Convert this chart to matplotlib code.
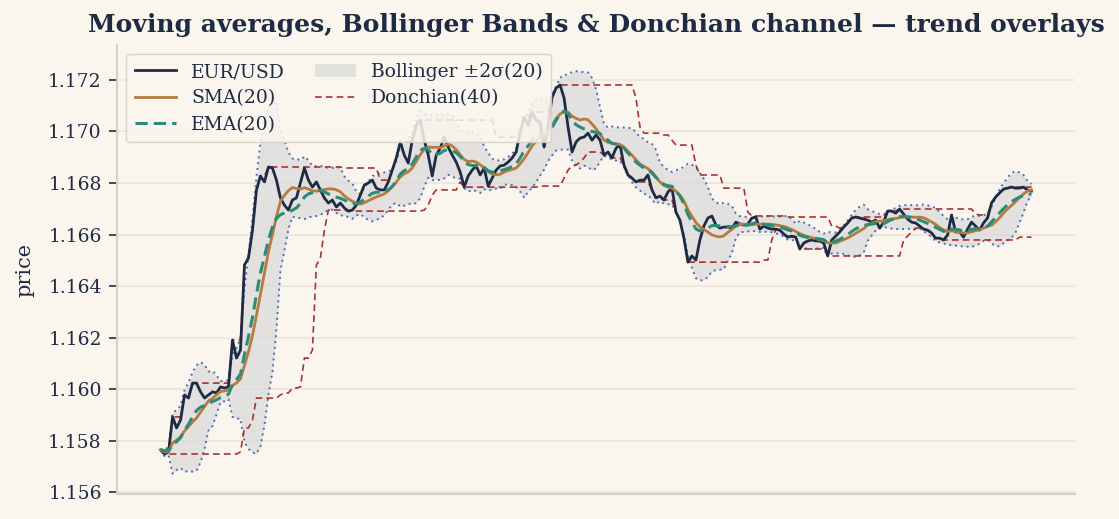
import matplotlib
matplotlib.use("Agg")
import matplotlib.pyplot as plt
import numpy as np
import pandas as pd

# EUR/USD closes, one sample every ~2 bars
eur_usd = [
    1.15765, 1.15749, 1.15757, 1.15893, 1.15850, 1.15881, 1.15978, 1.15966, 1.16024, 1.16024,
    1.15990, 1.15966, 1.15978, 1.15990, 1.15986, 1.16009, 1.16005, 1.16009, 1.16191, 1.16121,
    1.16152, 1.16482, 1.16509, 1.16617, 1.16773, 1.16827, 1.16804, 1.16862, 1.16858, 1.16811,
    1.16742, 1.16714, 1.16695, 1.16734, 1.16742, 1.16800,
    1.16858, 1.16811, 1.16784, 1.16804, 1.16773, 1.16742, 1.16722, 1.16734, 1.16707, 1.16722,
    1.16703, 1.16691, 1.16695, 1.16714, 1.16753, 1.16792, 1.16800, 1.16811, 1.16780, 1.16773,
    1.16773, 1.16804, 1.16850, 1.16897, 1.16959, 1.16908, 1.16877, 1.16966, 1.17024, 1.17044,
    1.16966, 1.16908, 1.16827, 1.16908, 1.16935,
    1.16978, 1.16939, 1.16908, 1.16881, 1.16842, 1.16784, 1.16827, 1.16850, 1.16866, 1.16831,
    1.16858, 1.16788, 1.16819, 1.16850, 1.16866, 1.16869, 1.16881, 1.16897, 1.16920, 1.16997,
    1.17055, 1.17024, 1.17075, 1.17044, 1.17036, 1.16939, 1.17024, 1.17133, 1.17168, 1.17180,
    1.17129, 1.17017, 1.16920, 1.16959, 1.16974, 1.16978, 1.16993, 1.16966, 1.16986, 1.16966,
    1.16908, 1.16920, 1.16897, 1.16935, 1.16947, 1.16869, 1.16831, 1.16819, 1.16804, 1.16811,
    1.16811, 1.16831, 1.16773, 1.16742, 1.16749, 1.16734, 1.16765, 1.16780, 1.16687, 1.16656,
    1.16586, 1.16493, 1.16517, 1.16501, 1.16579, 1.16633, 1.16664, 1.16672, 1.16637, 1.16625,
    1.16629, 1.16629, 1.16625, 1.16648, 1.16641,
    1.16637, 1.16641, 1.16664, 1.16668, 1.16621, 1.16633, 1.16625, 1.16621, 1.16621, 1.16617,
    1.16602, 1.16590, 1.16594, 1.16590, 1.16544, 1.16567, 1.16575, 1.16579, 1.16575, 1.16575,
    1.16567, 1.16517, 1.16579, 1.16594, 1.16610, 1.16629, 1.16645, 1.16664, 1.16668, 1.16664,
    1.16660, 1.16656, 1.16648, 1.16656, 1.16625,
    1.16648, 1.16691, 1.16691, 1.16683, 1.16699, 1.16679, 1.16660, 1.16648, 1.16645, 1.16633,
    1.16621, 1.16617, 1.16606, 1.16586, 1.16586, 1.16579, 1.16598, 1.16676, 1.16610, 1.16610,
    1.16590, 1.16621, 1.16648, 1.16633, 1.16617, 1.16645, 1.16664, 1.16722, 1.16745, 1.16761,
    1.16776, 1.16780, 1.16784, 1.16780, 1.16780, 1.16784, 1.16773, 1.16769,
]

bars_per_sample = 2.1
ma_len = 20
dc_len = 40

BG = '#faf6ee'
INK = '#1f2a44'

close = pd.Series(eur_usd)
x = np.arange(len(close))
w = round(ma_len / bars_per_sample)
wd = round(dc_len / bars_per_sample)
sma = close.rolling(w, min_periods=1).mean()
ema = close.ewm(span=w, adjust=False).mean()
sd = close.rolling(w, min_periods=1).std(ddof=0).fillna(0)
bb_up = sma + 2 * sd
bb_lo = sma - 2 * sd
dc_up = close.rolling(wd, min_periods=1).max()
dc_lo = close.rolling(wd, min_periods=1).min()

plt.rcParams['font.family'] = ['DejaVu Serif']
fig = plt.figure(figsize=(11.19, 5.19), dpi=100, facecolor=BG)
ax = fig.add_axes([0.1046, 0.0482, 0.8561, 0.8651], facecolor=BG)

ax.fill_between(x, bb_lo, bb_up, color='#d9d9d9', alpha=0.7, lw=0,
                label='Bollinger ±2σ(20)')
ax.plot(x, bb_up, color='#4a6db5', lw=1.4, ls=(0, (1, 2)))
ax.plot(x, bb_lo, color='#4a6db5', lw=1.4, ls=(0, (1, 2)))
ax.plot(x, dc_up, color='#a83232', lw=1.2, ls=(0, (4, 2.5)), label='Donchian(40)')
ax.plot(x, dc_lo, color='#a83232', lw=1.2, ls=(0, (4, 2.5)))
ax.plot(x, close, color=INK, lw=2.0, label='EUR/USD')
ax.plot(x, sma, color='#b87a3d', lw=2.0, label='SMA(20)')
ax.plot(x, ema, color='#2a8c78', lw=2.2, ls=(0, (4, 2)), label='EMA(20)')

ax.set_ylim(1.15594, 1.17335)
ax.set_yticks(np.arange(1.156, 1.1725, 0.002))
ax.yaxis.set_major_formatter(matplotlib.ticker.FormatStrFormatter('%.3f'))
ax.set_xticks([])
ax.tick_params(axis='y', labelsize=13.5, colors=INK, length=6, width=1.2, pad=5)
ax.set_ylabel('price', fontsize=15, color=INK, labelpad=10)
ax.grid(axis='y', color='#ede5d5', lw=1.2)
ax.set_axisbelow(True)
for s in ['top', 'right']:
    ax.spines[s].set_visible(False)
for s in ['left', 'bottom']:
    ax.spines[s].set_color('#d6cfc2')
    ax.spines[s].set_linewidth(1.5)

ax.set_title('Moving averages, Bollinger Bands & Donchian channel — trend overlays',
             fontsize=18, fontweight='bold', color=INK, pad=9)

h, l = ax.get_legend_handles_labels()
order = [l.index(k) for k in ['EUR/USD', 'SMA(20)', 'EMA(20)', 'Bollinger ±2σ(20)', 'Donchian(40)']]
leg = ax.legend([h[i] for i in order], [l[i] for i in order], loc='upper left', ncol=2,
                fontsize=13.5, frameon=True, facecolor=BG, edgecolor='#d6cfc2', framealpha=0.85,
                handlelength=2.2, borderpad=0.45, labelspacing=0.45, columnspacing=1.6)
for t in leg.get_texts():
    t.set_color(INK)

fig.savefig('out.png', dpi=100, facecolor=BG)
